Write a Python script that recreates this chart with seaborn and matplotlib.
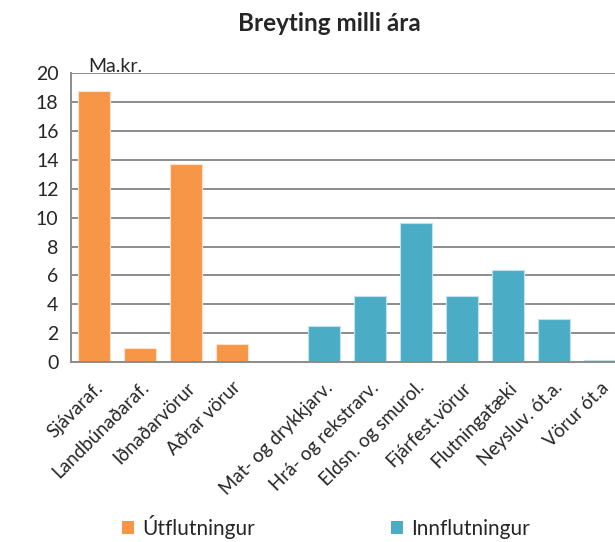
import matplotlib
matplotlib.use("Agg")
import matplotlib.pyplot as plt
from matplotlib.patches import Patch
from matplotlib.ticker import MultipleLocator
import numpy as np
import pandas as pd
import seaborn as sns

categories = ["Sjávaraf.", "Landbúnaðaraf.", "Iðnaðarvörur", "Aðrar vörur", "",
              "Mat- og drykkjarv.", "Hrá- og rekstrarv.", "Eldsn. og smurol.",
              "Fjárfest.vörur", "Flutningatæki", "Neysluv. ót.a.", "Vörur ót.a"]
export_vals = [18.8, 1.0, 13.7, 1.25, None, None, None, None, None, None, None, None]
import_vals = [None, None, None, None, None, 2.5, 4.6, 9.6, 4.6, 6.4, 2.95, 0.15]
groups = ["Útflutningur", "Innflutningur"]
colors = {"Útflutningur": "#F79646", "Innflutningur": "#4BACC6"}
edges = {"Útflutningur": "#fde3cf", "Innflutningur": "#bfe3ec"}

rows = []
for cat, e, i in zip(categories, export_vals, import_vals):
    if e is not None:
        rows.append((cat, e, groups[0]))
    elif i is not None:
        rows.append((cat, i, groups[1]))
    else:
        rows.append((cat, np.nan, groups[0]))
df = pd.DataFrame(rows, columns=["category", "value", "group"])

sns.set_style("white")
plt.rcParams["font.family"] = ["Lato", "DejaVu Sans"]

fig = plt.figure(figsize=(6.15, 5.42), dpi=100)
ax = fig.add_axes([0.1154, 0.332, 0.8976, 0.533])

sns.barplot(data=df, x="category", y="value", hue="group", order=categories,
            hue_order=groups, palette=colors, saturation=1, dodge=False, width=0.7,
            linewidth=0.8, ax=ax, legend=False)
# light outline like the original spreadsheet chart
for bar in ax.patches:
    r, g, b, _ = bar.get_facecolor()
    bar.set_edgecolor(edges[groups[0]] if r > b else edges[groups[1]])

grid_col = "#8c8c8c"
ax.set_xlim(-0.5, len(categories) - 0.5)
ax.set_ylim(0, 20)
ax.yaxis.set_major_locator(MultipleLocator(2))
ax.grid(axis="y", color=grid_col, linewidth=1.4)
ax.set_axisbelow(True)
for s in ["top", "right"]:
    ax.spines[s].set_visible(False)
for s in ["left", "bottom"]:
    ax.spines[s].set_color(grid_col)
    ax.spines[s].set_linewidth(1.4)

ax.set_xticks(np.arange(len(categories)))
ax.set_xticklabels(categories, rotation=45, ha="right", rotation_mode="anchor", fontsize=13.5)
ax.set_xticks(np.arange(len(categories) + 1) - 0.5, minor=True)
ax.tick_params(axis="x", which="major", length=0, pad=12)
ax.tick_params(axis="x", which="minor", length=5, width=1.4, color=grid_col)
ax.tick_params(axis="y", length=5, width=1.4, color=grid_col, labelsize=14, pad=4)
ax.set_xlabel("")
ax.set_ylabel("")

ax.text(0.031, 0.995, "Ma.kr.", transform=ax.transAxes, fontsize=14, va="bottom", ha="left")
fig.text(0.535, 0.957, "Breyting milli ára", fontsize=17.5, fontweight="bold", ha="center", va="center")

handles = [Patch(facecolor=colors[g], edgecolor="none") for g in groups]
fig.legend(handles, groups, loc="center", bbox_to_anchor=(0.53, 0.028), ncol=2, frameon=False,
           fontsize=15, handlelength=0.6, handleheight=0.6, handletextpad=0.4, columnspacing=6.5)

fig.savefig("out.png", dpi=100)
